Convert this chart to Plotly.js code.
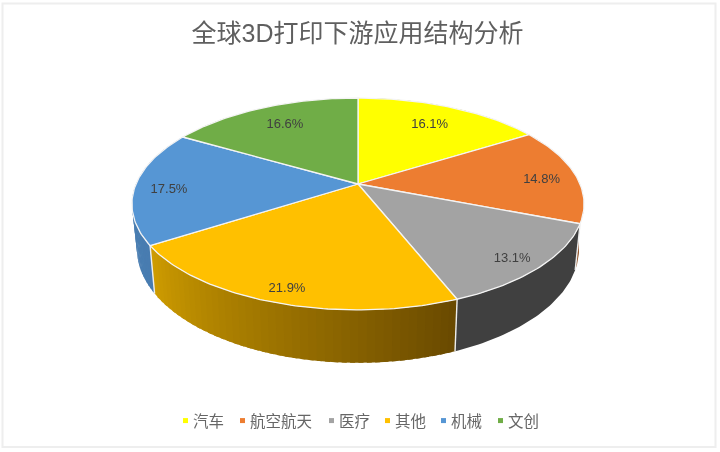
<!DOCTYPE html>
<html>
<head>
<meta charset="utf-8">
<script src="https://cdn.plot.ly/plotly-3.0.0.min.js"></script>
<style>
html,body{margin:0;padding:0;background:#fff;overflow:hidden}
#chart{width:720px;height:452px;filter:blur(0.6px)}
</style>
</head>
<body>
<div id="chart"></div>
<script>
// ---- data ----
var chartTitle = '全球3D打印下游应用结构分析';
var categories = ['汽车', '航空航天', '医疗', '其他', '机械', '文创'];
var shares = [16.1, 14.8, 13.1, 21.9, 17.5, 16.6];

// ---- style ----
var topColors = ['#FFFF00', '#ED7D31', '#A3A3A3', '#FFC000', '#5696D4', '#70AD47'];
var sideStart = [[128,128,0], [140,78,35], [64,64,64], [206,156,0], [76,130,182], [80,120,50]];
var sideEnd   = [[128,128,0], [140,78,35], [64,64,64], [106,74,0],  [72,124,176], [80,120,50]];
var labelRadius = [0.741, 0.834, 0.888, 0.90, 0.844, 0.746];
var labelNudge  = [0.3, 2.7, 1.8, -0.5, -2.7, 0.2];
var legendTextX = [193, 250, 339, 395, 451, 508];

// projection of the tilted disc: top face and lower rim
var topRing = {cx: 358, cy: 184, A: 222, B: 102.2, k: 0.1887};
var lowRing = {cx: 358, cy: 227.4, A: 217, B: 109.7, k: 0.19};
function project(ring, deg, r) {
  var t = deg * Math.PI / 180, u = r * Math.sin(t), v = r * Math.cos(t);
  var s = 1 / (1 + ring.k * v);
  return [ring.cx + ring.A * u * s, ring.cy - ring.B * v * s];
}
function arc(ring, a, b) {
  var n = Math.max(2, Math.ceil(Math.abs(b - a))), out = [];
  for (var i = 0; i <= n; i++) out.push(project(ring, a + (b - a) * i / n, 1));
  return out;
}
function polyTrace(pts, fill, line) {
  return {
    type: 'scatter', mode: 'lines', showlegend: false, hoverinfo: 'skip',
    x: pts.map(function (p) { return p[0]; }),
    y: pts.map(function (p) { return p[1]; }),
    fill: 'toself', fillcolor: fill,
    line: line || {width: 0, color: fill}
  };
}

var total = shares.reduce(function (a, b) { return a + b; }, 0);
var edges = [0];
shares.forEach(function (v, i) { edges.push(edges[i] + v / total * 360); });

var traces = [];

// side wall, split in strips so that it can carry a gradient
categories.forEach(function (c, i) {
  var a = edges[i], b = edges[i + 1];
  var steps = (String(sideStart[i]) === String(sideEnd[i])) ? 1 : 44;
  for (var j = 0; j < steps; j++) {
    var a0 = b - (b - a) * j / steps;       // runs from the left end (high angle) to the right end
    var a1 = b - (b - a) * (j + 1) / steps;
    var f = steps === 1 ? 0 : j / (steps - 1);
    var col = [0, 1, 2].map(function (q) { return Math.round(sideStart[i][q] + (sideEnd[i][q] - sideStart[i][q]) * f); });
    var a1x = j === steps - 1 ? a1 : a1 - (b - a) / steps * 0.6;
    var pts = arc(topRing, a0, a1x).concat(arc(lowRing, a1x, a0));
    pts.push(pts[0]);
    traces.push(polyTrace(pts, 'rgb(' + col.join(',') + ')'));
  }
});

// white seams on the visible side wall
edges.slice(1, 6).forEach(function (e) {
  if (e > 95 && e < 262) {
    var p = project(topRing, e, 1), q = project(lowRing, e, 1);
    traces.push({type: 'scatter', mode: 'lines', showlegend: false, hoverinfo: 'skip',
      x: [p[0], q[0]], y: [p[1], q[1]], line: {color: '#EDEDED', width: 1.4}});
  }
});

// top face
categories.forEach(function (c, i) {
  var pts = [project(topRing, 0, 0)].concat(arc(topRing, edges[i], edges[i + 1]));
  pts.push(pts[0]);
  traces.push(polyTrace(pts, topColors[i], {color: '#F4F4F4', width: 1.3}));
});

// percentage labels
var lab = categories.map(function (c, i) {
  return project(topRing, (edges[i] + edges[i + 1]) / 2 + labelNudge[i], labelRadius[i]);
});
traces.push({
  type: 'scatter', mode: 'text', showlegend: false, hoverinfo: 'skip',
  x: lab.map(function (p) { return p[0]; }),
  y: lab.map(function (p) { return p[1]; }),
  text: shares.map(function (v) { return v.toFixed(1) + '%'; }),
  textposition: 'middle center',
  textfont: {family: '"Liberation Sans", Arial, sans-serif', size: 13, color: '#404040'}
});

// legend entries
categories.forEach(function (c, i) {
  traces.push({
    type: 'scatter', mode: 'markers', name: c, hoverinfo: 'skip',
    x: [-50], y: [-50],
    marker: {symbol: 'square', size: 5, color: topColors[i]}
  });
});

var layout = {
  width: 720, height: 452,
  margin: {l: 0, r: 0, t: 0, b: 0},
  paper_bgcolor: '#FFFFFF', plot_bgcolor: '#FFFFFF',
  xaxis: {range: [0, 720], visible: false, fixedrange: true},
  yaxis: {range: [452, 0], visible: false, fixedrange: true},
  title: {
    text: chartTitle, x: 0.4965, xanchor: 'center', xref: 'paper',
    y: 1 - 33 / 452, yanchor: 'middle', yref: 'paper',
    font: {family: '"Liberation Sans", "Noto Sans CJK SC", sans-serif', size: 25, color: '#5F5F5F'}
  },
  showlegend: true,
  legend: {
    orientation: 'h', x: 100 / 720, xanchor: 'left', y: 1 - 404 / 452, yanchor: 'top',
    bgcolor: 'rgba(0,0,0,0)', traceorder: 'normal',
    font: {family: '"Noto Sans CJK SC", sans-serif', size: 15.5, color: '#666666'}
  },
  shapes: [{
    type: 'rect', xref: 'x', yref: 'y', x0: 2.5, x1: 715.5, y0: 3.5, y1: 447,
    line: {color: '#EEEEEE', width: 2}, fillcolor: 'rgba(0,0,0,0)', layer: 'below'
  }]
};

Plotly.newPlot('chart', traces, layout, {staticPlot: true, displayModeBar: false}).then(function (gd) {
  // tighten the legend spacing: symbol close to its text, entries on the original pitch
  var items = gd.querySelectorAll('.legend .traces');
  items.forEach(function (el, i) {
    var m = /translate\(([^,]+),\s*([^)]+)\)/.exec(el.getAttribute('transform') || '');
    var y = m ? m[2] : 0;
    el.setAttribute('transform', 'translate(' + (legendTextX[i] - 140) + ',' + y + ')');
    var sym = el.querySelector('.legendsymbols');
    if (sym) sym.setAttribute('transform', 'translate(12.5,0)');
  });
});
</script>
</body>
</html>
